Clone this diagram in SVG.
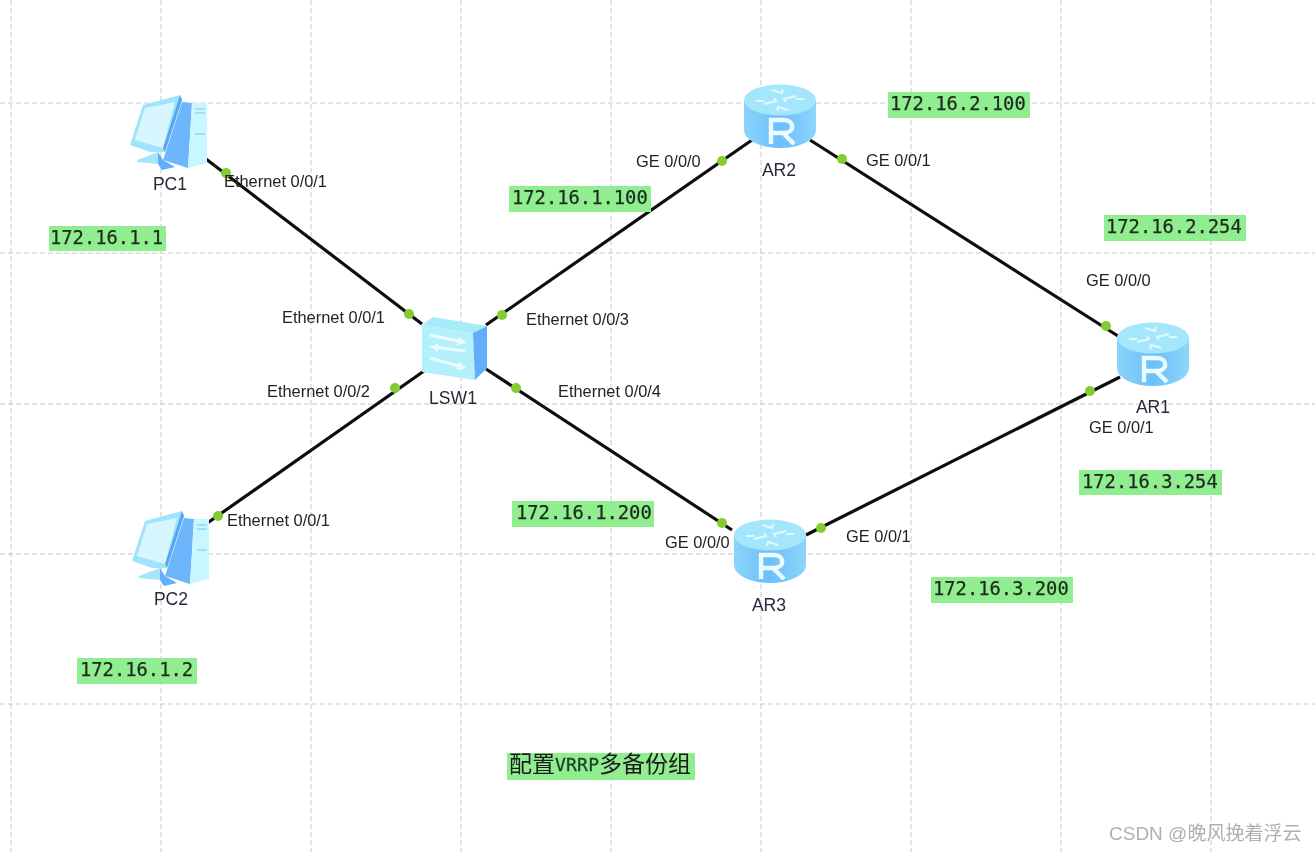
<svg xmlns="http://www.w3.org/2000/svg" width="1315" height="852" viewBox="0 0 1315 852">
<style>
.grid{stroke:#c8c8c8;stroke-width:1;stroke-dasharray:5 3;fill:none}
.link{stroke:#111;stroke-width:3.2;fill:none}
.dot{fill:#84cc32}
.port{font-family:"Liberation Sans",Arial,sans-serif;font-size:16.4px;fill:#222}
.name{font-family:"Liberation Sans",Arial,sans-serif;font-size:17.6px;fill:#2a2a3a}
.ip{font-family:"DejaVu Sans Mono","Liberation Mono",monospace;font-size:18.8px;fill:#1c2a1c;stroke:#1c2a1c;stroke-width:.25}
.tag{fill:#90ee90}
.wm{font-family:"Liberation Sans","Noto Sans CJK SC",sans-serif;font-size:19px;fill:#b0b0b0}
.cn{font-family:"Noto Sans CJK SC",sans-serif;font-size:23px;fill:#1a1a1a}
.cm{font-family:"DejaVu Sans Mono",monospace;font-size:18px;fill:#24402c;stroke:#24402c;stroke-width:.3}
</style>
<defs>
<filter id="soft" x="0" y="0" width="100%" height="100%"><feGaussianBlur stdDeviation="0.45"/></filter>
<linearGradient id="cyl" x1="0" x2="1" y1="0" y2="0">
<stop offset="0" stop-color="#8bd4fb"/><stop offset=".5" stop-color="#6cbffb"/><stop offset="1" stop-color="#8dd5fb"/>
</linearGradient>
<g id="router">
<path d="M-36 -13V17A36 18 0 0 0 36 17V-13Z" fill="url(#cyl)"/>
<ellipse cx="0" cy="-13" rx="36" ry="15.5" fill="#a4e6fb"/>
<path d="M-16 -9l12 -3l-2 -3M16 -17l-12 3l2 3M-8 -23l10 3l1 -4M8 -3l-10 -3l-1 4M-24 -12h8M16 -14h8" fill="none" stroke="#dff9ff" stroke-width="2.2"/>
<path d="M-9 31V7H4C15 7 15 20 4 20H-9M3 20L14 31" fill="none" stroke="#eafcff" stroke-width="4.4"/>
</g>
<g id="pc">
<path d="M22 29L41 -29L51 -28L47 37Z" fill="#6eb6fb"/>
<path d="M51 -28L66 -28V32L47 37Z" fill="#c8f7ff"/>
<path d="M-11 14L2 -26L39 -36L41 -31L24 21L9 21Z" fill="#9fe4fc"/>
<path d="M-6 9L4 -23L34 -29L22 17Z" fill="#d8f6fd"/>
<path d="M39 -36L41 -31L24 21L22 17Z" fill="#5aa6f6"/>
<path d="M-4 29L17 21L17 33L-4 31Z" fill="#a6e6fb"/>
<path d="M17 21L22 29L34 36L21 39L17 33Z" fill="#64aefa"/>
<path d="M54 -22H64M54 -18H64M54 3H64" stroke="#8fd6f6" stroke-width="1.6"/>
</g>
<marker id="wa" viewBox="0 0 6 6" refX="3" refY="3" markerWidth="3" markerHeight="3" orient="auto"><path d="M0 0L6 3L0 6Z" fill="#eafcff"/></marker>
</defs>
<rect width="1315" height="852" fill="#fff"/>
<g filter="url(#soft)">
<g id="grid" class="grid">
<path d="M11 0V852M161 0V852M311 0V852M461 0V852M611 0V852M761 0V852M911 0V852M1061 0V852M1211 0V852"/>
<path d="M0 103H1315M0 253H1315M0 404H1315M0 554H1315M0 704H1315"/>
</g>
<g id="connectors">
<path class="link" d="M206 159L422 324"/>
<path class="link" d="M424 371L206 524"/>
<path class="link" d="M486 325L752 140"/>
<path class="link" d="M486 369L732 530"/>
<path class="link" d="M810 140L1118 336"/>
<path class="link" d="M806 535L1120 377"/>
<g class="dot">
<circle cx="226" cy="173" r="5"/><circle cx="409" cy="314" r="5"/><circle cx="395" cy="388" r="5"/><circle cx="218" cy="516" r="5"/>
<circle cx="502" cy="315" r="5"/><circle cx="722" cy="161" r="5"/><circle cx="516" cy="388" r="5"/><circle cx="722" cy="523" r="5"/>
<circle cx="842" cy="159" r="5"/><circle cx="1106" cy="326" r="5"/><circle cx="821" cy="528" r="5"/><circle cx="1090" cy="391" r="5"/>
</g>
</g>
<g id="PC1"><use href="#pc" x="141" y="131"/><text class="name" x="170" y="190" text-anchor="middle">PC1</text></g>
<g id="PC2"><use href="#pc" x="143" y="547"/><text class="name" x="171" y="605" text-anchor="middle">PC2</text></g>
<g id="LSW1">
<path d="M422 325L473 333L475 380L422 372Z" fill="#b4f0fb"/>
<path d="M433 317L487 326L473 333L422 325Z" fill="#a6ecf8"/>
<path d="M473 333L487 326V368L475 380Z" fill="#62aefb"/>
<path d="M430 335L462 342" stroke="#eafcff" stroke-width="3" marker-end="url(#wa)"/>
<path d="M465 351L434 347" stroke="#eafcff" stroke-width="3" marker-end="url(#wa)"/>
<path d="M430 358L462 367" stroke="#eafcff" stroke-width="3" marker-end="url(#wa)"/>
<text class="name" x="453" y="404" text-anchor="middle">LSW1</text>
</g>
<g id="AR2"><use href="#router" x="780" y="113"/><text class="name" x="779" y="176" text-anchor="middle">AR2</text></g>
<g id="AR1"><use href="#router" x="1153" y="351"/><text class="name" x="1153" y="413" text-anchor="middle">AR1</text></g>
<g id="AR3"><use href="#router" x="770" y="548"/><text class="name" x="769" y="611" text-anchor="middle">AR3</text></g>
<g id="port-labels">
<text class="port" x="224" y="187">Ethernet 0/0/1</text>
<text class="port" x="282" y="323">Ethernet 0/0/1</text>
<text class="port" x="267" y="397">Ethernet 0/0/2</text>
<text class="port" x="227" y="526">Ethernet 0/0/1</text>
<text class="port" x="526" y="325">Ethernet 0/0/3</text>
<text class="port" x="558" y="397">Ethernet 0/0/4</text>
<text class="port" x="636" y="167">GE 0/0/0</text>
<text class="port" x="866" y="166">GE 0/0/1</text>
<text class="port" x="1086" y="286">GE 0/0/0</text>
<text class="port" x="1089" y="433">GE 0/0/1</text>
<text class="port" x="665" y="548">GE 0/0/0</text>
<text class="port" x="846" y="542">GE 0/0/1</text>
</g>
<g id="ip-labels">
<rect class="tag" x="49" y="226" width="117" height="25"/><text class="ip" x="50" y="244">172.16.1.1</text>
<rect class="tag" x="77" y="658" width="120" height="26"/><text class="ip" x="80" y="676">172.16.1.2</text>
<rect class="tag" x="509" y="186" width="142" height="26"/><text class="ip" x="512" y="204">172.16.1.100</text>
<rect class="tag" x="512" y="501" width="142" height="26"/><text class="ip" x="516" y="519">172.16.1.200</text>
<rect class="tag" x="888" y="92" width="142" height="26"/><text class="ip" x="890" y="110">172.16.2.100</text>
<rect class="tag" x="1104" y="215" width="142" height="26"/><text class="ip" x="1106" y="233">172.16.2.254</text>
<rect class="tag" x="1079" y="470" width="143" height="25"/><text class="ip" x="1082" y="488">172.16.3.254</text>
<rect class="tag" x="931" y="577" width="142" height="26"/><text class="ip" x="933" y="595">172.16.3.200</text>
</g>
<g id="title">
<rect class="tag" x="507" y="753" width="188" height="27"/>
<text class="cn" x="509" y="772">配置</text><text class="cm" x="555" y="771" textLength="44">VRRP</text><text class="cn" x="599" y="772">多备份组</text>
</g>
<text class="wm" x="1109" y="840">CSDN @晚风挽着浮云</text>
</g>
</svg>
